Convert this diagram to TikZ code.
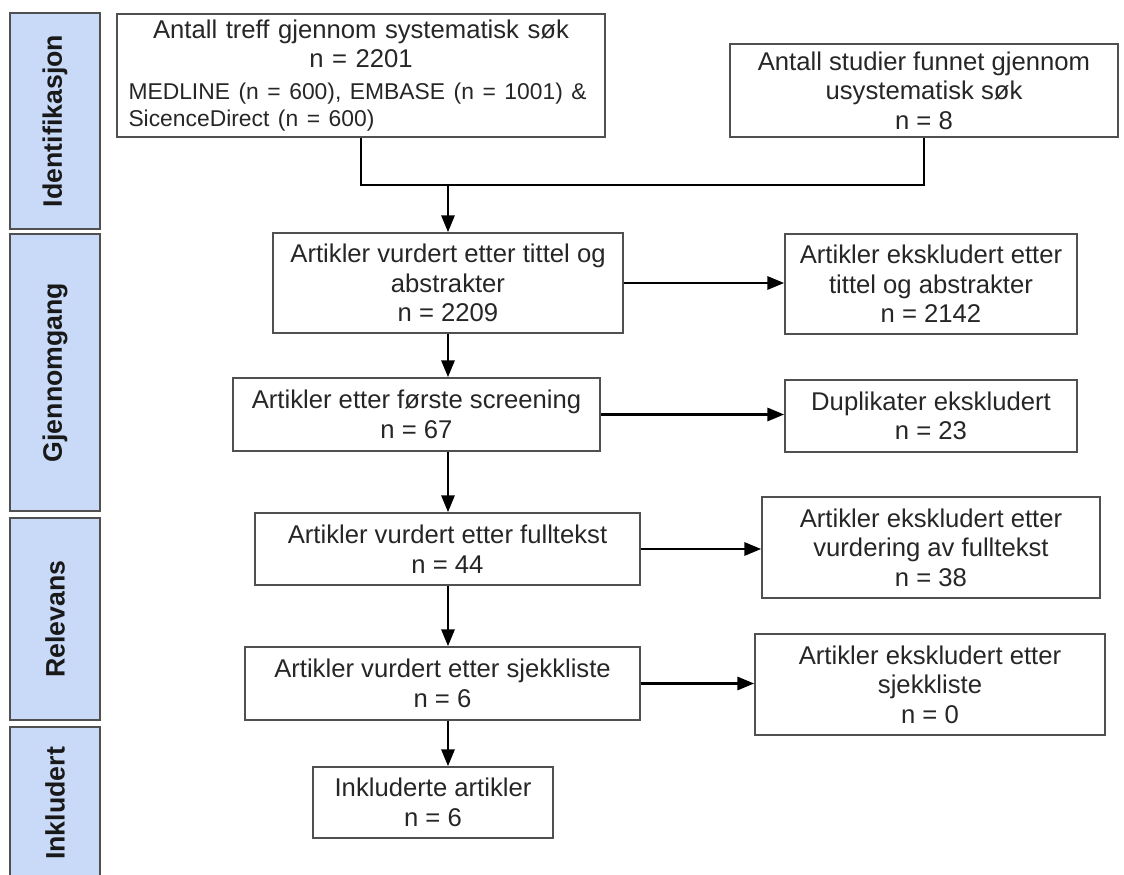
\documentclass[tikz,border=0pt]{standalone}
\usepackage{fontspec}
\setmainfont{Liberation Sans}
\usetikzlibrary{arrows.meta}
\definecolor{bandblue}{HTML}{C9DAF8}
\definecolor{edgegrey}{HTML}{505050}
\begin{document}
\begin{tikzpicture}[
		box/.style={draw=edgegrey, line width=1pt, align=center, inner sep=2pt, text=black!85, font=\fontsize{14.6}{16.8}\selectfont},
		band/.style={draw=edgegrey, fill=bandblue, line width=1.1pt, minimum height=1.8cm, rotate=90, text=black!90, font=\bfseries\fontsize{15.2}{17}\selectfont},
		flow/.style={line width=1.35pt},
		arr/.style={flow, -{Triangle[length=9.5pt,width=7.5pt]}}]
	\useasboundingbox (0,0) rectangle (22.48,-17.5);
	\node [band, minimum width=4.32cm] (bid) at (1.1,-2.42) {Identifikasjon};
	\node [band, minimum width=5.54cm] (bgj) at (1.1,-7.45) {Gjennomgang};
	\node [band, minimum width=4.04cm] (brel) at (1.1,-12.38) {Relevans};
	\node [band, minimum width=3.06cm] (bink) at (1.1,-16.07) {Inkludert};
	\node [box, minimum width=9.76cm, minimum height=2.46cm, text width=9.3cm] (sys) at (7.22,-1.51)
		{Antall treff gjennom systematisk søk\\ n = 2201\\[1pt]
		\parbox[t]{9.3cm}{\raggedright\fontsize{13}{15.5}\selectfont MEDLINE (n = 600), EMBASE (n = 1001) \&\\ SicenceDirect (n = 600)}};
	\node [box, minimum width=7.76cm, minimum height=1.86cm] (usys) at (18.48,-1.81)
		{Antall studier funnet gjennom\\ usystematisk søk\\ n = 8};
	\coordinate (merge) at (8.96,-3.7);
	\node [box, minimum width=7.0cm, minimum height=2.0cm] (tittel) at (8.96,-5.66)
		{Artikler vurdert etter tittel og\\ abstrakter\\ n = 2209};
	\node [box, minimum width=5.84cm, minimum height=2.0cm] (eksTittel) at (18.62,-5.68)
		{Artikler ekskludert etter\\ tittel og abstrakter\\ n = 2142};
	\node [box, minimum width=7.34cm, minimum height=1.46cm] (screen) at (8.33,-8.29)
		{Artikler etter første screening\\ n = 67};
	\node [box, minimum width=5.84cm, minimum height=1.44cm] (dupl) at (18.62,-8.32)
		{Duplikater ekskludert\\ n = 23};
	\node [box, minimum width=7.7cm, minimum height=1.44cm] (full) at (8.95,-10.98)
		{Artikler vurdert etter fulltekst\\ n = 44};
	\node [box, minimum width=6.76cm, minimum height=2.02cm] (eksFull) at (18.62,-10.95)
		{Artikler ekskludert etter\\ vurdering av fulltekst\\ n = 38};
	\node [box, minimum width=7.9cm, minimum height=1.46cm] (sjekk) at (8.85,-13.67)
		{Artikler vurdert etter sjekkliste\\ n = 6};
	\node [box, minimum width=7.0cm, minimum height=2.02cm] (eksSjekk) at (18.6,-13.69)
		{Artikler ekskludert etter\\ sjekkliste\\ n = 0};
	\node [box, minimum width=4.8cm, minimum height=1.42cm] (inkl) at (8.66,-16.05)
		{Inkluderte artikler\\ n = 6};
	\draw [flow] (sys.south) -- (sys.south |- merge) -- (usys.south |- merge) -- (usys.south);
	\draw [arr] (merge) -- (merge |- tittel.north);
	\draw [arr] (merge |- tittel.south) -- (merge |- screen.north);
	\draw [arr] (merge |- screen.south) -- (merge |- full.north);
	\draw [arr] (merge |- full.south) -- (merge |- sjekk.north);
	\draw [arr] (merge |- sjekk.south) -- (merge |- inkl.north);
	\draw [arr] (tittel.east) -- (eksTittel.west |- tittel.east);
	\draw [arr] (screen.east) -- (dupl.west |- screen.east);
	\draw [arr] (full.east) -- (eksFull.west |- full.east);
	\draw [arr] (sjekk.east) -- (eksSjekk.west |- sjekk.east);
\end{tikzpicture}
\end{document}
